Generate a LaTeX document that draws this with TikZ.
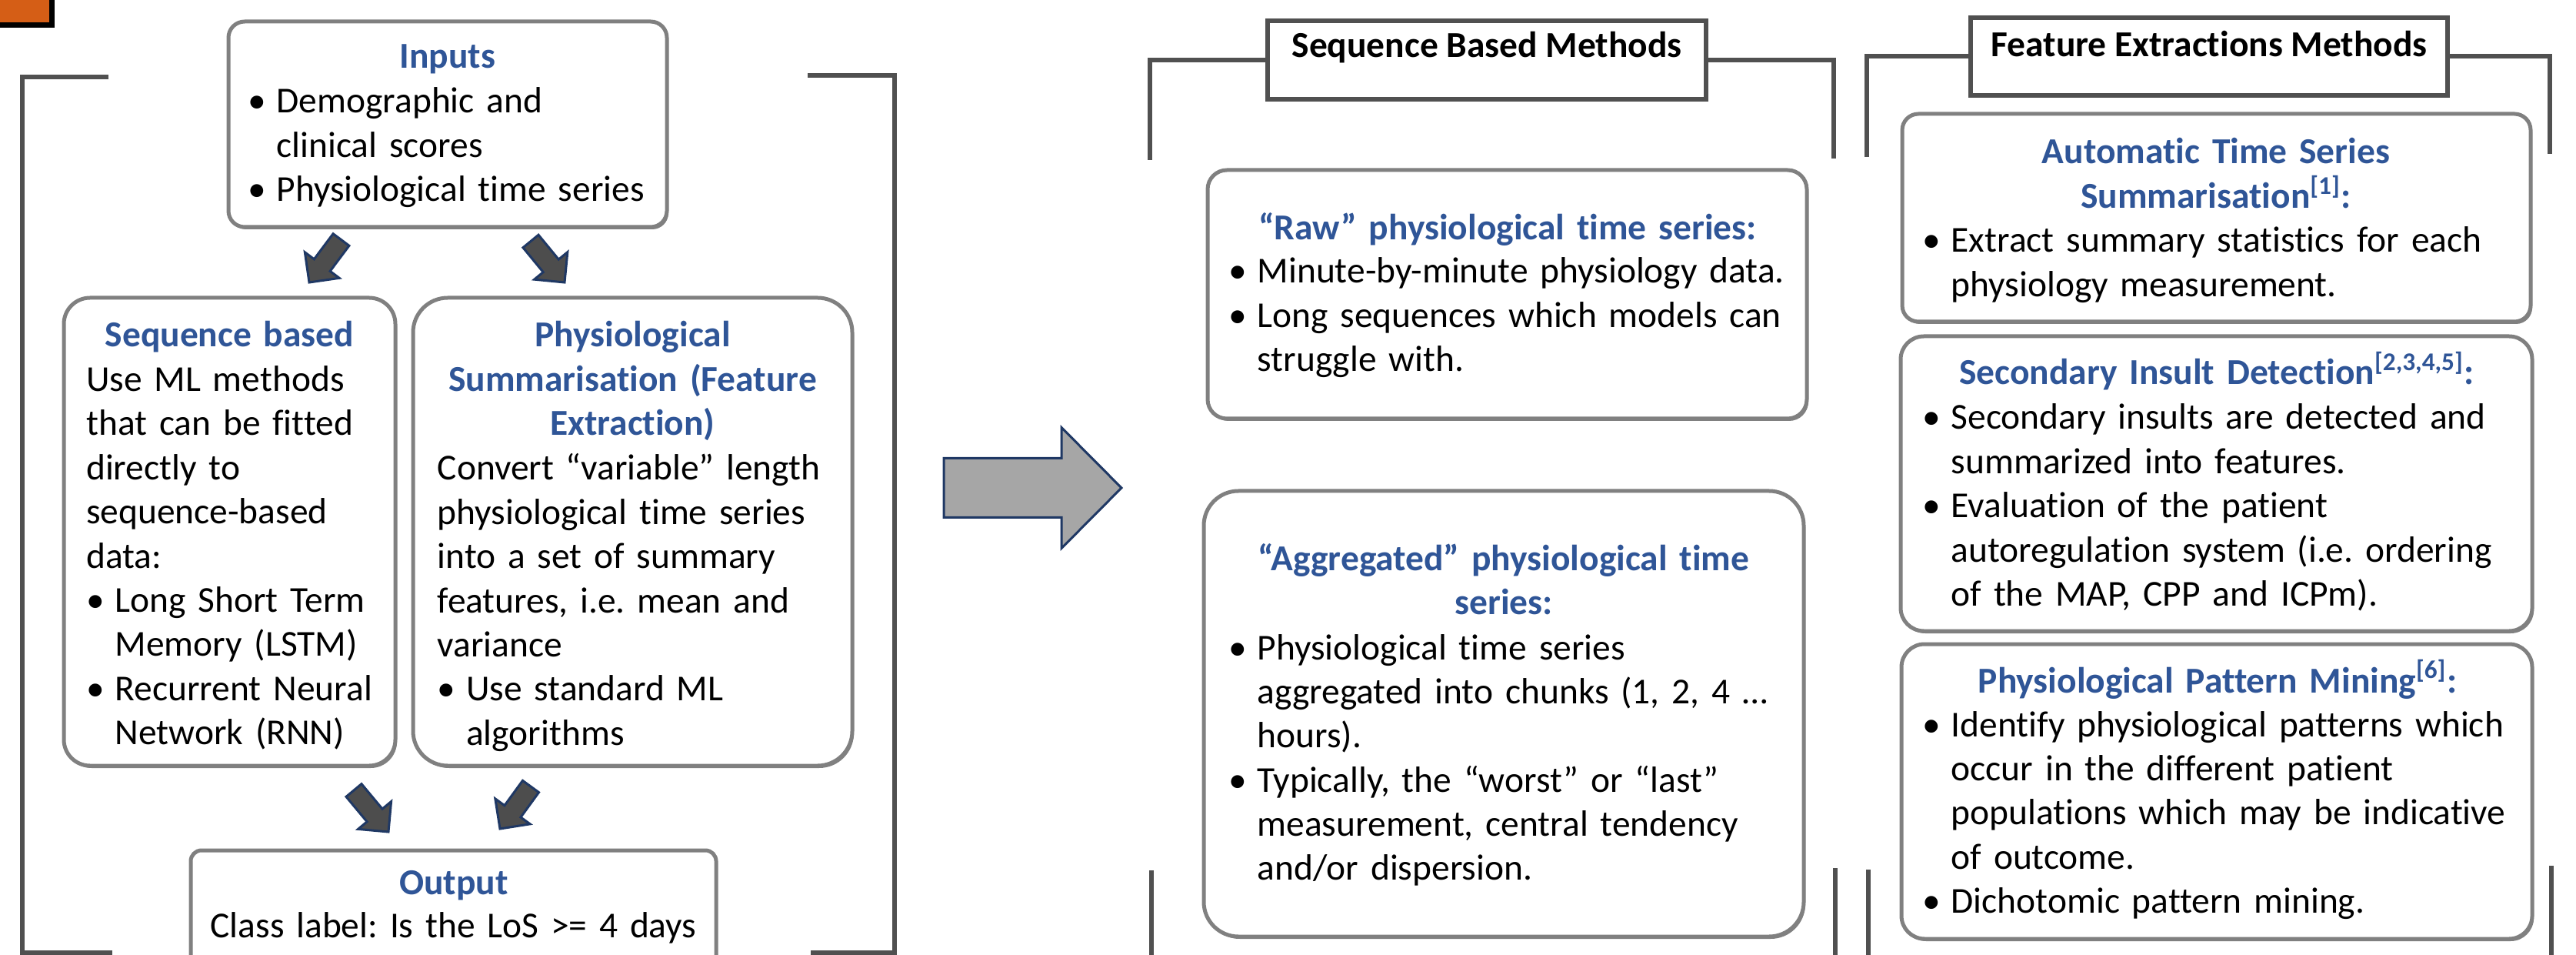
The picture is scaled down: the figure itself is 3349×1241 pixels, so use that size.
\documentclass[tikz,border=0pt]{standalone}
\usepackage{fontspec}
\setmainfont{Carlito}[RawFeature={-liga;-clig;-dlig;-calt}]
\usetikzlibrary{calc,fit,shadows}

\definecolor{titleblue}{RGB}{47,85,151}
\definecolor{bracketgray}{RGB}{80,80,80}
\definecolor{boxgray}{RGB}{128,128,128}
\definecolor{arrownavy}{RGB}{31,56,100}
\definecolor{arrowdark}{RGB}{77,77,77}
\definecolor{arrowlight}{RGB}{166,166,166}
\definecolor{accentorange}{RGB}{213,94,22}

\newcommand{\diagfont}{\fontsize{13.5pt}{16.33pt}\selectfont\frenchspacing}
\newcommand{\bl}{\makebox[3.75mm][l]{\textbullet}}
\newcommand{\ind}{\hspace*{3.75mm}}

% block arrow: style, name, tail point, tip point, shaft half width, head half width, head length
\newcommand{\blockarrow}[7]{%
  \coordinate (#2-t) at #3;
  \coordinate (#2-p) at #4;
  \coordinate (#2-b) at ($(#2-p)!#7!(#2-t)$);
  \draw[#1] ($(#2-t)!#5!90:(#2-p)$) -- ($(#2-b)!#5!90:(#2-p)$)
    -- ($(#2-b)!#6!90:(#2-p)$) -- (#2-p) -- ($(#2-b)!#6!-90:(#2-p)$)
    -- ($(#2-b)!#5!-90:(#2-p)$) -- ($(#2-t)!#5!-90:(#2-p)$) -- cycle;
}

\begin{document}
\begin{tikzpicture}[x=0.1mm, y=-0.1mm,
  rbox/.style={draw=boxgray, line width=0.5mm, fill=white, inner sep=0pt,
    drop shadow={shadow xshift=0.2mm, shadow yshift=-0.3mm, fill=black!50, opacity=1}},
  hdr/.style={draw=bracketgray, line width=0.6mm, fill=white, inner sep=0pt,
    font=\diagfont\bfseries},
  brk/.style={draw=bracketgray, line width=0.6mm, line join=miter},
  ttl/.style={anchor=base, align=center, text width=75mm, inner sep=0pt,
    text=titleblue, font=\diagfont\bfseries},
  txt/.style={anchor=base west, align=left, text width=85mm, inner sep=0pt,
    font=\diagfont},
  smallarrow/.style={fill=arrowdark, draw=arrownavy, line width=0.3mm, line join=miter},
  bigarrow/.style={fill=arrowlight, draw=arrownavy, line width=0.3mm, line join=miter}]

\useasboundingbox (0,0) rectangle (3349,1241);
\clip (0,0) rectangle (3349,1241);
\fill[white] (0,0) rectangle (3349,1241);

% corner tab
\draw[line width=0.7mm, draw=black, fill=accentorange] (-60,-60) rectangle (67,33);

% ---------------- left panel ----------------
\draw[brk] (141,100) -- (29,100) -- (29,1238) -- (146,1238);
\draw[brk] (1050,98) -- (1163,98) -- (1163,1238) -- (1054,1238);

\node[rbox, rounded corners=2.1mm, fit={(297,28) (867,295)}] (inputs) {};
\node[ttl] (inputsT) at (582,89) {Inputs};
\node[txt] (inputsB) at (321.5,147) {\bl Demographic and\\ \ind clinical scores\\ \bl Physiological time series};

\node[rbox, rounded corners=3.4mm, fit={(83,387) (514,995)}] (seq) {};
\node[ttl] (seqT) at (298.5,451) {Sequence based};
\node[txt] (seqB) at (111.5,508.5) {Use ML methods\\that can be fitted\\directly to\\sequence-based\\data:\\
  \bl Long Short Term\\ \ind Memory (LSTM)\\ \bl Recurrent Neural\\ \ind Network (RNN)};

\node[rbox, rounded corners=4.5mm, fit={(537,387) (1108,995)}] (phys) {};
\node[ttl] (physT) at (822.5,451) {Physiological\\Summarisation (Feature\\Extraction)};
\node[txt] (physB) at (568,624) {Convert “variable” length\\physiological time series\\into a set of summary\\features, i.e. mean and\\variance\\
  \bl Use standard ML\\ \ind algorithms};

\node[rbox, rounded corners=1.4mm, fit={(248,1105) (931,1330)}] (out) {};
\node[ttl] (outT) at (590,1162) {Output};
\node[txt] (outB) at (273,1218) {Class label: Is the LoS >= 4 days};

\blockarrow{smallarrow}{a1}{(443.5,311.5)}{(402,367)}{1.3mm}{2.8mm}{2.8mm}
\blockarrow{smallarrow}{a2}{(690,313.5)}{(734,367)}{1.3mm}{2.8mm}{2.8mm}
\blockarrow{smallarrow}{a3}{(460,1027)}{(505,1081)}{1.3mm}{2.8mm}{2.8mm}
\blockarrow{smallarrow}{a4}{(690,1022)}{(650,1077)}{1.3mm}{2.8mm}{2.8mm}

% transition arrow
\blockarrow{bigarrow}{big}{(1227,634)}{(1458,634)}{3.85mm}{7.85mm}{7.8mm}

% ---------------- sequence based methods ----------------
\node[hdr, fit={(1648,27) (2218,129)}] (hseq) {Sequence Based Methods};
\coordinate (hseqL) at (1495,208);
\coordinate (hseqR) at (2384,206);
\draw[brk] (hseq.west) -| (hseqL);
\draw[brk] (hseq.east) -| (hseqR);
\draw[brk] (1497,1131) -- (1497,1260);
\draw[brk] (2386,1128) -- (2386,1260);

\node[rbox, rounded corners=2.5mm, fit={(1570,221) (2349,544)}] (raw) {};
\node[ttl] (rawT) at (1960,312) {“Raw” physiological time series:};
\node[txt] (rawB) at (1596.5,368) {\bl Minute-by-minute physiology data.\\ \bl Long sequences which models can\\ \ind struggle with.};

\node[rbox, rounded corners=4.5mm, fit={(1565,638) (2345,1217)}] (agg) {};
\node[ttl] (aggT) at (1955,741) {“Aggregated” physiological time\\series:};
\node[txt] (aggB) at (1596.5,857) {\bl Physiological time series\\ \ind aggregated into chunks (1, 2, 4 …\\ \ind hours).\\
  \bl Typically, the “worst” or “last”\\ \ind measurement, central tendency\\ \ind and/or dispersion.};

% ---------------- feature extraction methods ----------------
\node[hdr, fit={(2562,23) (3182,124)}] (hfeat) {Feature Extractions Methods};
\coordinate (hfeatL) at (2427,204);
\coordinate (hfeatR) at (3315,200);
\draw[brk] (hfeat.west) -| (hfeatL);
\draw[brk] (hfeat.east) -| (hfeatR);
\draw[brk] (2429,1130) -- (2429,1260);
\draw[brk] (3317,1125) -- (3317,1260);

\node[rbox, rounded corners=2.1mm, fit={(2473,148) (3290,418)}] (auto) {};
\node[ttl] (autoT) at (2881,213) {Automatic Time Series\\Summarisation\textsuperscript{[1]}:};
\node[txt] (autoB) at (2498.5,328) {\bl Extract summary statistics for each\\ \ind physiology measurement.};

\node[rbox, rounded corners=3mm, fit={(2471,437) (3292,820)}] (sec) {};
\node[ttl] (secT) at (2882,500) {Secondary Insult Detection\textsuperscript{[2,3,4,5]}:};
\node[txt] (secB) at (2498.5,558) {\bl Secondary insults are detected and\\ \ind summarized into features.\\
  \bl Evaluation of the patient\\ \ind autoregulation system (i.e. ordering\\ \ind of the MAP, CPP and ICPm).};

\node[rbox, rounded corners=3mm, fit={(2472,837) (3292,1220)}] (pat) {};
\node[ttl] (patT) at (2883,900) {Physiological Pattern Mining\textsuperscript{[6]}:};
\node[txt] (patB) at (2498.5,957) {\bl Identify physiological patterns which\\ \ind occur in the different patient\\
  \ind populations which may be indicative\\ \ind of outcome.\\ \bl Dichotomic pattern mining.};

\end{tikzpicture}
\end{document}
